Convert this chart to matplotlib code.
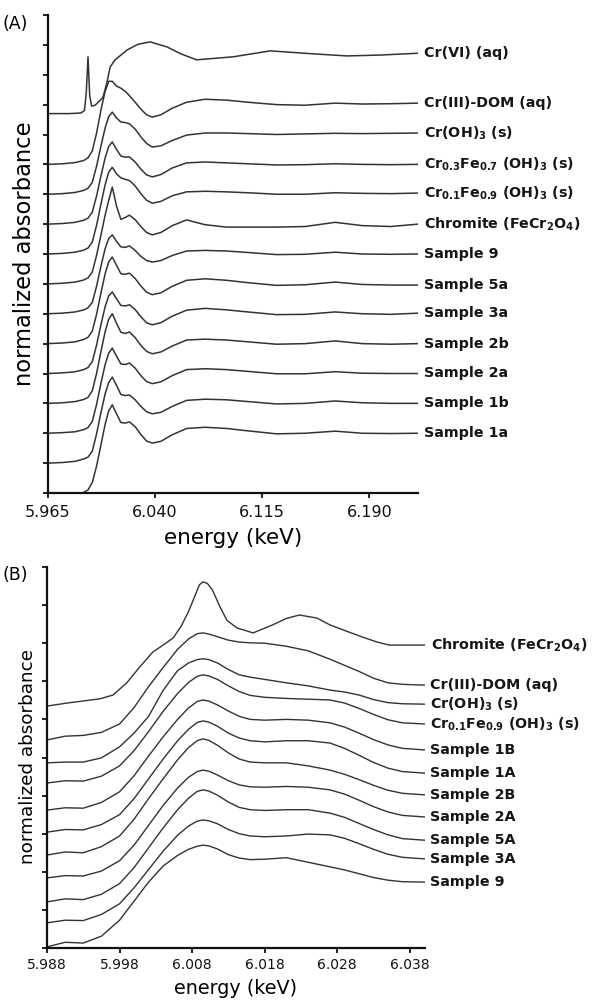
import numpy as np
import matplotlib
matplotlib.use('Agg')
import matplotlib.pyplot as plt

plt.rcParams['font.family'] = 'DejaVu Sans'
plt.rcParams['mathtext.fontset'] = 'dejavusans'
plt.rcParams['mathtext.default'] = 'bf'

LINE = '#333333'
nan = np.nan

# ---------------- panel A data (energy in keV, normalized absorbance) ----------------
energy_a = [5.965, 5.975, 5.984, 5.990, 5.993, 5.996, 5.999, 6.002, 6.005, 6.0075,
            6.010, 6.013, 6.016, 6.019, 6.022, 6.026, 6.030, 6.034, 6.038, 6.044,
            6.052, 6.062, 6.075, 6.090, 6.105, 6.125, 6.145, 6.166, 6.185, 6.205, 6.224]

energy_crvi = [5.965, 5.980, 5.988, 5.9905, 5.9918, 5.993, 5.9942, 5.9955, 5.998, 6.001,
               6.0035, 6.0063, 6.0085, 6.012, 6.0204, 6.028, 6.0365, 6.0484, 6.058, 6.069,
               6.0946, 6.1206, 6.1416, 6.1507, 6.1745, 6.1977, 6.224]
crvi_a = [0.00, 0.00, 0.02, 0.10, 0.70, 1.90, 0.60, 0.25, 0.28, 0.42,
          0.55, 1.05, 1.56, 1.80, 2.13, 2.32, 2.40, 2.23, 2.00, 1.80,
          1.90, 2.10, 2.03, 2.00, 1.93, 1.96, 2.02]

dom_a = [0.00, 0.02, 0.06, 0.13, 0.22, 0.45, 1.05, 1.80, 2.45, 2.78, 2.78, 2.62, 2.55, 2.45, 2.30,
         2.08, 1.85, 1.66, 1.58, 1.66, 1.88, 2.08, 2.18, 2.15, 2.08, 2.00, 1.98, 2.05, 2.02, 2.03, 2.05]
croh3_a = [0.00, 0.02, 0.06, 0.13, 0.20, 0.40, 0.94, 1.60, 2.22, 2.60, 2.75, 2.55, 2.42, 2.40, 2.36,
           2.18, 1.92, 1.70, 1.58, 1.62, 1.80, 1.98, 2.05, 2.05, 2.03, 2.00, 2.02, 2.04, 2.03, 2.04, 2.05]
cr03_a = [0.00, 0.02, 0.06, 0.13, 0.20, 0.40, 0.94, 1.60, 2.22, 2.60, 2.75, 2.50, 2.28, 2.24, 2.25,
          2.08, 1.84, 1.65, 1.58, 1.66, 1.88, 2.05, 2.08, 2.05, 2.02, 1.98, 1.99, 2.02, 2.00, 1.99, 2.00]
cr01_a = [0.00, 0.02, 0.06, 0.13, 0.20, 0.40, 0.96, 1.66, 2.32, 2.74, 2.90, 2.68, 2.55, 2.50, 2.46,
          2.28, 2.02, 1.80, 1.70, 1.76, 1.95, 2.08, 2.10, 2.08, 2.05, 2.00, 2.00, 2.05, 2.03, 2.02, 2.04]
chromite_a = [0.00, 0.02, 0.06, 0.13, 0.20, 0.40, 0.95, 1.62, 2.30, 2.80, 3.24, 2.60, 2.16, 2.22, 2.30,
              2.15, 1.92, 1.72, 1.64, 1.72, 1.95, 2.14, 1.98, 1.90, 1.90, 1.90, 1.92, 2.06, 1.95, 1.92, 2.00]
s9_a = [0.00, 0.02, 0.06, 0.13, 0.20, 0.38, 0.92, 1.58, 2.18, 2.52, 2.64, 2.42, 2.24, 2.22, 2.27,
        2.12, 1.92, 1.78, 1.73, 1.78, 1.95, 2.10, 2.12, 2.10, 2.05, 1.98, 1.99, 2.06, 2.00, 1.99, 2.00]
s5a_a = [0.00, 0.02, 0.06, 0.14, 0.21, 0.42, 0.98, 1.68, 2.34, 2.74, 2.90, 2.62, 2.34, 2.32, 2.36,
         2.18, 1.93, 1.72, 1.64, 1.70, 1.92, 2.12, 2.17, 2.12, 2.04, 1.95, 1.97, 2.06, 1.98, 1.96, 1.96]
s3a_a = [0.00, 0.02, 0.06, 0.13, 0.20, 0.40, 0.95, 1.62, 2.24, 2.60, 2.73, 2.50, 2.28, 2.26, 2.30,
         2.14, 1.90, 1.70, 1.63, 1.70, 1.92, 2.12, 2.18, 2.13, 2.06, 1.97, 1.98, 2.06, 2.00, 1.98, 2.02]
s2b_a = [0.00, 0.02, 0.06, 0.13, 0.20, 0.42, 1.00, 1.72, 2.40, 2.82, 3.00, 2.68, 2.38, 2.34, 2.39,
         2.20, 1.94, 1.74, 1.66, 1.72, 1.92, 2.12, 2.15, 2.12, 2.06, 1.98, 2.00, 2.09, 2.00, 1.98, 2.00]
s2a_a = [0.00, 0.02, 0.05, 0.12, 0.19, 0.40, 0.96, 1.66, 2.30, 2.68, 2.85, 2.58, 2.32, 2.30, 2.35,
         2.18, 1.93, 1.73, 1.66, 1.72, 1.93, 2.13, 2.16, 2.13, 2.07, 1.99, 1.99, 2.06, 2.01, 2.00, 2.00]
s1b_a = [0.00, 0.02, 0.06, 0.14, 0.20, 0.40, 0.98, 1.68, 2.32, 2.70, 2.88, 2.60, 2.30, 2.26, 2.28,
         2.12, 1.90, 1.72, 1.65, 1.70, 1.90, 2.10, 2.14, 2.12, 2.06, 1.98, 2.00, 2.08, 2.02, 2.00, 2.00]
s1a_a = [nan, nan, nan, 0.02, 0.10, 0.35, 0.90, 1.60, 2.30, 2.75, 2.95, 2.65, 2.36, 2.34, 2.38,
         2.22, 1.96, 1.74, 1.67, 1.73, 1.95, 2.16, 2.20, 2.16, 2.08, 1.98, 2.00, 2.07, 2.00, 1.99, 2.00]

labels_a = ['Cr(VI) (aq)', 'Cr(III)-DOM (aq)', 'Cr(OH)$_3$ (s)',
            'Cr$_{0.3}$Fe$_{0.7}$ (OH)$_3$ (s)', 'Cr$_{0.1}$Fe$_{0.9}$ (OH)$_3$ (s)',
            'Chromite (FeCr$_2$O$_4$)', 'Sample 9', 'Sample 5a', 'Sample 3a',
            'Sample 2b', 'Sample 2a', 'Sample 1b', 'Sample 1a']
series_a = [crvi_a, dom_a, croh3_a, cr03_a, cr01_a, chromite_a, s9_a, s5a_a, s3a_a,
            s2b_a, s2a_a, s1b_a, s1a_a]
offsets_a = [12.7, 11, 10, 9, 8, 7, 6, 5, 4, 3, 2, 1, 0]

# ---------------- panel B data ----------------
energy_b = [5.988, 5.9905, 5.993, 5.9955, 5.998, 6.000, 6.002, 6.004, 6.006, 6.0075,
            6.0087, 6.0095, 6.0103, 6.0115, 6.013, 6.0145, 6.016, 6.018, 6.021, 6.024,
            6.027, 6.029, 6.031, 6.033, 6.035, 6.037, 6.040]

energy_chromite_b = [5.988, 5.9908, 5.9953, 5.9971, 5.999, 6.0008, 6.0026, 6.004, 6.0054, 6.0065,
                     6.0075, 6.0083, 6.0090, 6.0095, 6.0101, 6.0108, 6.0118, 6.0128, 6.0142,
                     6.0164, 6.0191, 6.021, 6.0228, 6.0252, 6.027, 6.0295, 6.0315, 6.0335,
                     6.0352, 6.0401]
chromite_b = [0.00, 0.08, 0.19, 0.29, 0.61, 1.03, 1.42, 1.60, 1.79, 2.10,
              2.48, 2.85, 3.18, 3.26, 3.22, 3.05, 2.62, 2.25, 2.05,
              1.92, 2.13, 2.30, 2.39, 2.31, 2.13, 1.95, 1.81, 1.68,
              1.60, 1.60]

dom_b = [0.00, 0.10, 0.12, 0.20, 0.42, 0.85, 1.40, 1.90, 2.38, 2.65,
         2.79, 2.81, 2.78, 2.71, 2.62, 2.57, 2.55, 2.54, 2.46, 2.34,
         2.12, 1.96, 1.80, 1.62, 1.50, 1.46, 1.44]
croh3_b = [0.00, 0.02, 0.02, 0.13, 0.42, 0.78, 1.22, 1.90, 2.42, 2.62,
           2.71, 2.73, 2.71, 2.62, 2.45, 2.31, 2.25, 2.19, 2.10, 2.02,
           1.91, 1.86, 1.78, 1.66, 1.58, 1.55, 1.54]
cr01_b = [0.00, 0.06, 0.05, 0.18, 0.45, 0.85, 1.35, 1.88, 2.35, 2.64,
          2.80, 2.84, 2.81, 2.72, 2.55, 2.40, 2.30, 2.25, 2.22, 2.20,
          2.18, 2.10, 1.96, 1.80, 1.66, 1.58, 1.55]
s1B_b = [0.00, 0.06, 0.05, 0.20, 0.48, 0.90, 1.42, 1.92, 2.38, 2.68,
         2.85, 2.89, 2.86, 2.76, 2.60, 2.46, 2.38, 2.36, 2.38, 2.36,
         2.29, 2.18, 2.02, 1.85, 1.71, 1.62, 1.58]
s1A_b = [0.00, 0.07, 0.06, 0.20, 0.46, 0.88, 1.40, 1.92, 2.40, 2.70,
         2.88, 2.92, 2.89, 2.78, 2.60, 2.47, 2.40, 2.37, 2.40, 2.40,
         2.34, 2.20, 2.02, 1.83, 1.68, 1.59, 1.55]
s2B_b = [0.00, 0.08, 0.06, 0.22, 0.50, 0.94, 1.48, 2.00, 2.50, 2.82,
         3.00, 3.05, 3.01, 2.88, 2.68, 2.52, 2.44, 2.42, 2.42, 2.34,
         2.23, 2.12, 1.98, 1.83, 1.70, 1.62, 1.58]
s2A_b = [0.00, 0.06, 0.05, 0.18, 0.45, 0.86, 1.38, 1.90, 2.36, 2.64,
         2.79, 2.83, 2.80, 2.70, 2.55, 2.44, 2.39, 2.38, 2.40, 2.38,
         2.31, 2.20, 2.04, 1.87, 1.73, 1.64, 1.60]
s5A_b = [0.00, 0.08, 0.06, 0.20, 0.48, 0.90, 1.42, 1.94, 2.42, 2.72,
         2.90, 2.94, 2.91, 2.80, 2.62, 2.48, 2.42, 2.40, 2.42, 2.42,
         2.33, 2.22, 2.06, 1.90, 1.76, 1.66, 1.62]
s3A_b = [0.00, 0.07, 0.06, 0.22, 0.50, 0.92, 1.40, 1.88, 2.30, 2.54,
         2.67, 2.70, 2.68, 2.60, 2.45, 2.34, 2.28, 2.26, 2.28, 2.33,
         2.31, 2.22, 2.08, 1.93, 1.80, 1.72, 1.68]
s9_b = [0.00, 0.12, 0.10, 0.28, 0.70, 1.20, 1.70, 2.12, 2.40, 2.56,
        2.64, 2.67, 2.65, 2.57, 2.42, 2.33, 2.29, 2.30, 2.34, 2.22,
        2.10, 2.02, 1.92, 1.82, 1.75, 1.71, 1.70]

labels_b = ['Chromite (FeCr$_2$O$_4$)', 'Cr(III)-DOM (aq)', 'Cr(OH)$_3$ (s)',
            'Cr$_{0.1}$Fe$_{0.9}$ (OH)$_3$ (s)', 'Sample 1B', 'Sample 1A', 'Sample 2B',
            'Sample 2A', 'Sample 5A', 'Sample 3A', 'Sample 9']
series_b = [chromite_b, dom_b, croh3_b, cr01_b, s1B_b, s1A_b, s2B_b, s2A_b, s5A_b, s3A_b, s9_b]
offsets_b = [6.35, 5.46, 4.86, 4.33, 3.62, 3.04, 2.44, 1.84, 1.21, 0.66, 0.03]

# ---------------- figure ----------------
W, H = 595, 1002
fig = plt.figure(figsize=(W / 100, H / 100), dpi=100)


def style_axes(ax, fs):
    ax.spines[['top', 'right']].set_visible(False)
    for s in ('left', 'bottom'):
        ax.spines[s].set_linewidth(1.6)
        ax.spines[s].set_color('#111111')
    ax.tick_params(axis='both', direction='out', length=3.5, width=1.3, colors='#111111',
                   labelsize=fs)
    ax.tick_params(axis='y', labelleft=False)


# Panel A
axA = fig.add_axes([48 / W, 1 - 493 / H, 370 / W, 478 / H])
for lab, vals, off in zip(labels_a, series_a, offsets_a):
    e = energy_crvi if lab.startswith('Cr(VI)') else energy_a
    y = np.array(vals) + off
    axA.plot(e, y, color=LINE, lw=1.1)
    axA.annotate(lab, xy=(e[-1], y[-1]), xytext=(6, 0), textcoords='offset pixels',
                 va='center', ha='left', fontsize=10.3, fontweight='bold', color='#151515',
                 annotation_clip=False)
axA.set_xlim(5.965, 6.224)
axA.set_ylim(0, 16)
axA.set_xticks([5.965, 6.040, 6.115, 6.190])
axA.set_xticklabels(['5.965', '6.040', '6.115', '6.190'])
axA.set_yticks(range(0, 17))
style_axes(axA, 11.5)
axA.tick_params(axis='x', pad=5)
fig.text(233 / W, 1 - 538 / H, 'energy (keV)', ha='center', va='center', fontsize=15.5)
fig.text(25 / W, 1 - 254 / H, 'normalized absorbance', ha='center', va='center',
         rotation=90, fontsize=16.3)
fig.text(3 / W, 1 - 24 / H, '(A)', ha='left', va='center', fontsize=12.5)

# Panel B
axB = fig.add_axes([47 / W, 1 - 948 / H, 378 / W, 381 / H])
for lab, vals, off in zip(labels_b, series_b, offsets_b):
    e = energy_chromite_b if lab.startswith('Chromite') else energy_b
    y = np.array(vals) + off
    axB.plot(e, y, color=LINE, lw=1.0)
    axB.annotate(lab, xy=(e[-1], y[-1]), xytext=(6, 0), textcoords='offset pixels',
                 va='center', ha='left', fontsize=10.3, fontweight='bold', color='#151515',
                 annotation_clip=False)
axB.set_xlim(5.988, 6.0401)
axB.set_ylim(0, 10)
axB.set_xticks([5.988, 5.998, 6.008, 6.018, 6.028, 6.038])
axB.set_xticklabels(['5.988', '5.998', '6.008', '6.018', '6.028', '6.038'])
axB.set_yticks(range(0, 11))
style_axes(axB, 10)
axB.tick_params(axis='x', pad=4)
fig.text(236 / W, 1 - 989 / H, 'energy (keV)', ha='center', va='center', fontsize=13.8)
fig.text(28 / W, 1 - 757 / H, 'normalized absorbance', ha='center', va='center',
         rotation=90, fontsize=13.2)
fig.text(3 / W, 1 - 575 / H, '(B)', ha='left', va='center', fontsize=12.5)

fig.savefig('out.png', dpi=100)
